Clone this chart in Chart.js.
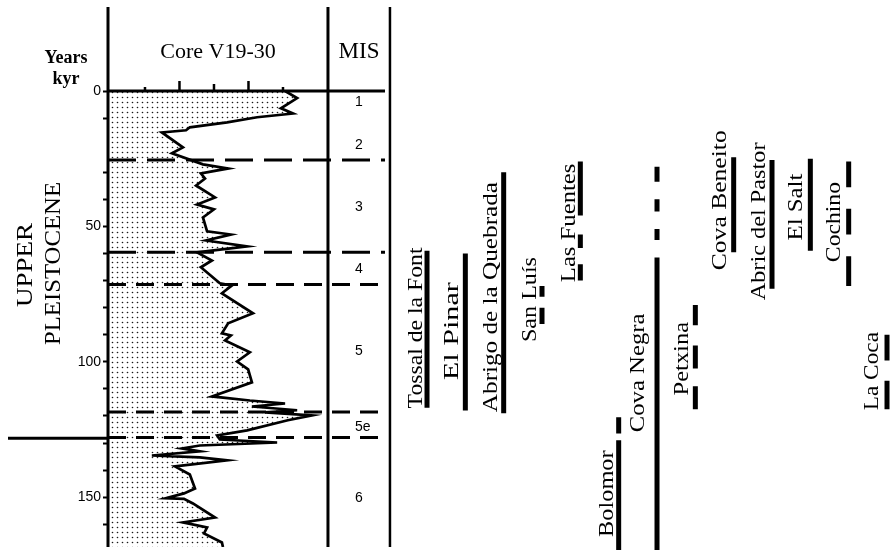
<!DOCTYPE html>
<html>
<head>
<meta charset="utf-8">
<script src="https://cdn.jsdelivr.net/npm/chart.js@4.4.1/dist/chart.umd.min.js"></script>
<style>
html,body{margin:0;padding:0;background:#fff;}
canvas{display:block;}
</style>
</head>
<body>
<canvas id="c" width="890" height="551"></canvas>
<script>
// ---------- DATA ----------
// Core V19-30 curve: age (kyr) and value (axis units, ticks 1..5)
const coreAge = [0, 2.6, 6.4, 8.3, 9.7, 11.6, 13.4, 14.5, 15.3, 20.8,
  23.0, 27.1, 28.6, 30.4, 32.3, 34.9, 39.3, 41.9, 43.7, 46.7,
  51.8, 53.0, 55.2, 57.4, 59.6, 62.6, 65.1, 71.0, 71.8, 74.7,
  82.1, 85.8, 89.5, 90.3, 92.1, 96.5, 99.9, 102.8, 107.6, 112.8,
  114.3, 115.4, 116.5, 117.9, 118.7, 119.8, 121.6, 125.3, 127.2, 128.7,
  129.8, 130.9, 132.0, 133.1, 134.6, 135.3, 136.4, 138.6, 141.6, 146.8,
  148.6, 150.4, 150.6, 152.3, 157.5, 159.3, 161.2, 163.4, 166.7, 168.4];
const coreValue = [5.06, 5.41, 4.94, 5.29, 4.25, 3.38, 2.30, 2.19, 1.49, 2.10,
  1.78, 2.68, 3.41, 2.62, 2.74, 2.48, 3.03, 2.51, 3.00, 2.68,
  2.80, 3.49, 2.77, 3.96, 2.51, 2.94, 2.62, 3.17, 3.52, 3.23,
  4.13, 3.41, 3.23, 3.49, 3.32, 4.04, 3.67, 3.99, 4.10, 2.94,
  4.04, 5.06, 4.10, 5.41, 4.48, 5.84, 5.14, 3.96, 3.09, 3.17,
  4.83, 2.59, 2.07, 2.59, 1.20, 2.59, 3.38, 1.87, 2.30, 2.45,
  2.13, 1.61, 2.13, 2.39, 3.03, 2.10, 2.80, 2.71, 3.23, 3.26];
const coreTicks = [1, 2, 3, 4, 5];
const yearTicks = [0, 50, 100, 150];
const misBoundaries = [25.5, 59.5, 71.5, 118.5, 128];
const misLabels = ['1', '2', '3', '4', '5', '5e', '6'];
const misLabelAge = [4.2, 20.1, 43, 65.9, 96.2, 124.2, 150.4];
const pleistoceneBoundary = 128.2;
const siteNames = ['Tossal de la Font', 'El Pinar', 'Abrigo de la Quebrada', 'San Luís',
  'Las Fuentes', 'Bolomor', 'Cova Negra', 'Petxina', 'Cova Beneito',
  'Abric del Pastor', 'El Salt', 'Cochino', 'La Coca'];
const siteRanges = [
  [[59, 117]],
  [[60, 118]],
  [[30, 119]],
  [[72, 76], [80, 86]],
  [[26, 46], [53, 58], [64, 70]],
  [[120.5, 126.5], [129, 169.5]],
  [[28, 33.5], [40, 44.5], [51, 55], [61.5, 169.5]],
  [[79, 86.5], [94, 102.5], [109, 117.5]],
  [[24.5, 59.5]],
  [[25.5, 73]],
  [[25, 59]],
  [[26, 35.5], [43.5, 53], [61, 72]],
  [[90, 99.5], [107, 117.5]]
];

// ---------- LAYOUT (not data) ----------
const X_MIN = -0.072, X_MAX = 22.595;          // core value axis
const XS_MIN = -8.322, XS_MAX = 12.078;        // site column axis
const MIS_LEFT = 6.304, MIS_RIGHT = 8.101, PANEL_END = 7.957;
const tickLen = [4, 10, 7, 10, 4];
// per site: baseline offset from bar (px), label bottom age, label top age
const labelLayout = [
  [-5, 117.2, 57.8], [-7, 106.8, 70.6], [-7, 118.6, 33.6], [-6, 92.7, 61.3],
  [-5, 70.6, 26.8], [-6, 164.7, 132.7], [-13, 126, 82.2], [-7, 112.4, 85.3],
  [-8, 66.2, 14.5], [-7, 77.3, 19], [-8, 55.2, 30.5], [-9, 63.2, 33.6], [-9, 117.9, 89]
];
const SERIF = '"Liberation Serif", "Times New Roman", serif';
const SANS = '"Liberation Sans", Arial, sans-serif';

const canvas = document.getElementById('c');
const mainCtx = canvas.getContext('2d');
const dotPattern = (() => {
  const off = document.createElement('canvas');
  off.width = 5; off.height = 5;
  const g = off.getContext('2d');
  g.fillStyle = '#1a1a1a';
  g.beginPath();
  g.arc(2.5, 2.5, 0.8, 0, Math.PI * 2);
  g.fill();
  return mainCtx.createPattern(off, 'repeat');
})();

const datasets = [{
  label: 'Core V19-30',
  indexAxis: 'y',
  xAxisID: 'x', yAxisID: 'y',
  data: coreAge.map((a, i) => ({x: coreValue[i], y: a})),
  borderColor: '#000', borderWidth: 2.7, borderJoinStyle: 'miter',
  pointRadius: 0, tension: 0,
  fill: {value: X_MIN}, backgroundColor: dotPattern
}];
siteRanges.forEach((ranges, s) => {
  ranges.forEach(r => {
    datasets.push({
      label: siteNames[s],
      indexAxis: 'y',
      xAxisID: 'xs', yAxisID: 'y',
      data: [{x: s, y: r[0]}, {x: s, y: r[1]}],
      borderColor: '#000', borderWidth: 5, borderCapStyle: 'butt',
      pointRadius: 0, fill: false, clip: false
    });
  });
});

function vText(ctx, text, bx, yBottom, yTop, font) {
  ctx.save();
  ctx.font = font;
  ctx.textAlign = 'left';
  ctx.textBaseline = 'alphabetic';
  const w = ctx.measureText(text).width;
  ctx.translate(bx, yBottom);
  ctx.rotate(-Math.PI / 2);
  ctx.scale((yBottom - yTop) / w, 1);
  ctx.fillText(text, 0, 0);
  ctx.restore();
}

const decor = {
  id: 'decor',
  afterDatasetsDraw(chart) {
    const {ctx, chartArea: ca, scales} = chart;
    const x = scales.x, y = scales.y, xs = scales.xs;
    const topY = 7;
    const y0 = y.getPixelForValue(0);
    const midX = x.getPixelForValue(MIS_LEFT);
    const rightX = x.getPixelForValue(MIS_RIGHT);
    const endX = x.getPixelForValue(PANEL_END);
    const seg = (x1, y1, x2, y2) => { ctx.beginPath(); ctx.moveTo(x1, y1); ctx.lineTo(x2, y2); ctx.stroke(); };
    ctx.save();
    ctx.strokeStyle = '#000'; ctx.fillStyle = '#000'; ctx.lineCap = 'butt';
    // MIS boundaries
    ctx.lineWidth = 3;
    misBoundaries.forEach((b, i) => {
      ctx.setLineDash(i < 2 ? [28, 11] : [18, 10]);
      const py = y.getPixelForValue(b);
      seg(ca.left, py, endX, py);
    });
    ctx.setLineDash([]);
    // Upper / Middle Pleistocene boundary
    const pb = y.getPixelForValue(pleistoceneBoundary);
    seg(8, pb, ca.left, pb);
    // frame lines
    ctx.lineWidth = 3;
    seg(ca.left, topY, ca.left, ca.bottom);
    seg(midX, topY, midX, ca.bottom);
    ctx.lineWidth = 2.5;
    seg(rightX, topY, rightX, ca.bottom);
    ctx.lineWidth = 3;
    seg(ca.left, y0, endX, y0);
    // core ticks
    ctx.lineWidth = 2.5;
    coreTicks.forEach((v, i) => {
      const px = x.getPixelForValue(v);
      seg(px, y0, px, y0 - tickLen[i]);
    });
    // headers
    ctx.textAlign = 'center';
    ctx.textBaseline = 'alphabetic';
    ctx.font = 'bold 18px ' + SERIF;
    ctx.fillText('Years', 66, 63);
    ctx.fillText('kyr', 66, 84);
    ctx.font = '22px ' + SERIF;
    ctx.fillText('Core V19-30', (ca.left + midX) / 2, 58);
    ctx.font = '23px ' + SERIF;
    ctx.fillText('MIS', (midX + rightX) / 2, 58);
    // MIS labels
    ctx.font = '14px ' + SANS;
    ctx.textAlign = 'left';
    ctx.textBaseline = 'middle';
    misLabels.forEach((t, i) => ctx.fillText(t, midX + 27, y.getPixelForValue(misLabelAge[i])));
    // left title
    vText(ctx, 'UPPER', 32, 307, 223, '24px ' + SERIF);
    vText(ctx, 'PLEISTOCENE', 60, 345, 182, '24px ' + SERIF);
    // site labels
    siteNames.forEach((n, s) => {
      const L = labelLayout[s];
      vText(ctx, n, xs.getPixelForValue(s) + L[0], y.getPixelForValue(L[1]), y.getPixelForValue(L[2]), '22px ' + SERIF);
    });
    ctx.restore();
  }
};

new Chart(canvas, {
  type: 'line',
  data: {datasets},
  options: {
    responsive: false,
    animation: false,
    devicePixelRatio: 1,
    indexAxis: 'y',
    layout: {padding: {top: 91, bottom: 4, left: 0, right: 0}},
    plugins: {legend: {display: false}, tooltip: {enabled: false}},
    scales: {
      y: {
        type: 'linear', position: 'left', reverse: true, min: 0, max: 168.39,
        afterFit: s => { s.width = 108; s.paddingTop = 0; s.paddingBottom = 0; },
        ticks: {
          stepSize: 10, includeBounds: false, autoSkip: false, padding: 2, color: '#000',
          font: {family: SANS, size: 14},
          callback: v => yearTicks.includes(v) ? String(v) : ''
        },
        grid: {
          drawOnChartArea: false, drawTicks: true, tickLength: 5, tickWidth: 2,
          tickColor: c => (c.tick && c.tick.value === 20) ? 'rgba(0,0,0,0)' : '#000'
        },
        border: {display: false}
      },
      x: {type: 'linear', position: 'bottom', display: false, min: X_MIN, max: X_MAX},
      xs: {type: 'linear', axis: 'x', position: 'bottom', display: false, min: XS_MIN, max: XS_MAX}
    }
  },
  plugins: [decor]
});
</script>
</body>
</html>
